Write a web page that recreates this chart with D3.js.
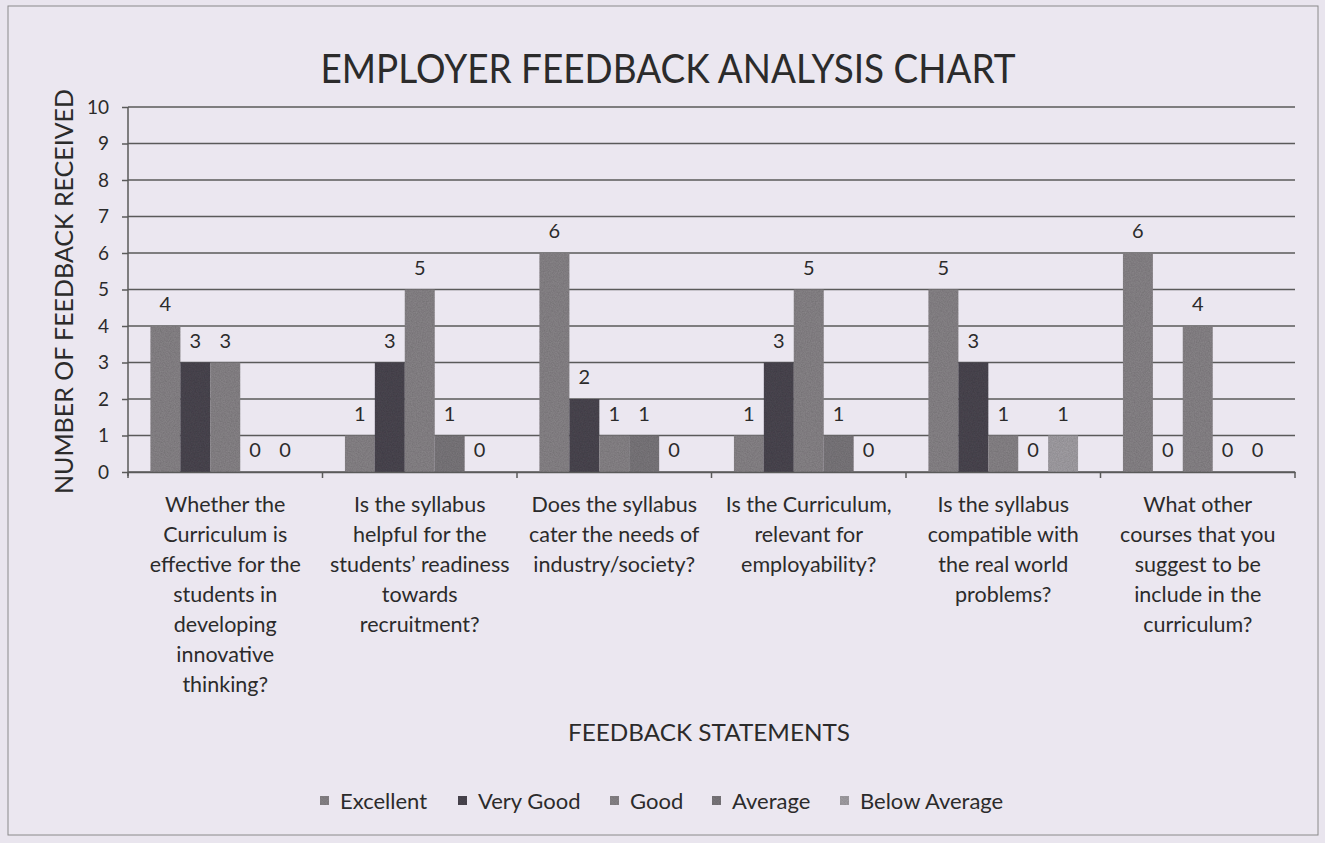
<!DOCTYPE html>
<html>
<head>
<meta charset="utf-8">
<script src="https://cdn.jsdelivr.net/npm/d3@7"></script>
<style>
  body { margin: 0; background: #e9e5ee; }
  svg { display: block; }
  text { font-family: Lato, "Open Sans", sans-serif; fill: #2b2b2b; }
</style>
</head>
<body>
<div id="chart"></div>
<script>
// categories (feedback statements, split into lines as in the picture)
const statements = [
  ['Whether the', 'Curriculum is', 'effective for the', 'students in', 'developing', 'innovative', 'thinking?'],
  ['Is the syllabus', 'helpful for the', 'students\u2019 readiness', 'towards', 'recruitment?'],
  ['Does the syllabus', 'cater the needs of', 'industry/society?'],
  ['Is the Curriculum,', 'relevant for', 'employability?'],
  ['Is the syllabus', 'compatible with', 'the real world', 'problems?'],
  ['What other', 'courses that you', 'suggest to be', 'include in the', 'curriculum?']
];

const ratings = ['Excellent', 'Very Good', 'Good', 'Average', 'Below Average'];

// number of feedback received, one array per rating
const excellent    = [4, 1, 6, 1, 5, 6];
const veryGood     = [3, 3, 2, 3, 3, 0];
const good         = [3, 5, 1, 5, 1, 4];
const average      = [0, 1, 1, 1, 0, 0];
const belowAverage = [0, 0, 0, 0, 1, 0];

const yTicks = [0, 1, 2, 3, 4, 5, 6, 7, 8, 9, 10];

const seriesValues = [excellent, veryGood, good, average, belowAverage];
const colors = ['#8b878b', '#4d4953', '#8b878b', '#7e7a7f', '#a6a3a8'];

const width = 1325, height = 843;
const margin = {top: 107, right: 30, bottom: 371, left: 128};

const svg = d3.select('#chart').append('svg')
  .attr('width', width)
  .attr('height', height);

// grain like the scanned print
const filt = svg.append('defs').append('filter')
  .attr('id', 'grain')
  .attr('x', 0).attr('y', 0).attr('width', 1).attr('height', 1);
filt.append('feTurbulence')
  .attr('type', 'fractalNoise')
  .attr('baseFrequency', 0.8)
  .attr('numOctaves', 2)
  .attr('seed', 3)
  .attr('result', 'noise');
filt.append('feColorMatrix')
  .attr('in', 'noise')
  .attr('type', 'matrix')
  .attr('values', '0 0 0 0 0  0 0 0 0 0  0 0 0 0 0  0 0 0 0.35 0')
  .attr('result', 'dark');
filt.append('feComposite')
  .attr('in', 'dark').attr('in2', 'SourceGraphic')
  .attr('operator', 'in')
  .attr('result', 'darkIn');
filt.append('feMerge').call(m => {
  m.append('feMergeNode').attr('in', 'SourceGraphic');
  m.append('feMergeNode').attr('in', 'darkIn');
});

// chart area border
svg.append('rect')
  .attr('x', 8).attr('y', 6)
  .attr('width', 1310).attr('height', 829)
  .attr('fill', '#ebe7f0')
  .attr('stroke', '#8a8a8a')
  .attr('stroke-width', 1);

const x0 = d3.scaleBand()
  .domain(d3.range(statements.length))
  .range([margin.left, width - margin.right]);

const x1 = d3.scaleBand()
  .domain(d3.range(ratings.length))
  .range([0, x0.bandwidth()])
  .paddingOuter(0.75);

const y = d3.scaleLinear()
  .domain([0, 10])
  .range([height - margin.bottom, margin.top]);

// gridlines
svg.append('g')
  .selectAll('line')
  .data(yTicks)
  .join('line')
    .attr('x1', margin.left)
    .attr('x2', width - margin.right)
    .attr('y1', d => y(d))
    .attr('y2', d => y(d))
    .attr('stroke', '#5a5a5a')
    .attr('stroke-width', 1.5);

// bars
const groups = svg.append('g')
  .selectAll('g')
  .data(statements)
  .join('g')
    .attr('transform', (d, i) => `translate(${x0(i)},0)`);

groups.each(function(d, i) {
  const g = d3.select(this);
  const vals = seriesValues.map((s, k) => ({k: k, v: s[i]}));
  g.selectAll('rect')
    .data(vals)
    .join('rect')
      .attr('x', e => x1(e.k))
      .attr('y', e => y(e.v))
      .attr('width', x1.bandwidth())
      .attr('height', e => y(0) - y(e.v))
      .attr('fill', e => colors[e.k])
      .attr('filter', 'url(#grain)');
  g.selectAll('text')
    .data(vals)
    .join('text')
      .attr('x', e => x1(e.k) + x1.bandwidth() / 2)
      .attr('y', e => y(e.v) - 15)
      .attr('text-anchor', 'middle')
      .attr('font-size', 20)
      .text(e => e.v);
});

// y axis
const yAxis = svg.append('g')
  .attr('transform', `translate(${margin.left},0)`)
  .call(d3.axisLeft(y).tickValues(yTicks).tickSize(6).tickPadding(13));
yAxis.selectAll('text').attr('font-size', 19).attr('fill', '#2b2b2b').style('font-family', 'Lato, sans-serif');
yAxis.selectAll('line, path').attr('stroke', '#5a5a5a').attr('stroke-width', 1.5);
yAxis.select('path').attr('d', `M0,${y(0) + 4}V${y(10)}`);

// x axis baseline and category ticks
const xAxis = svg.append('g')
  .attr('transform', `translate(0,${y(0)})`)
  .call(d3.axisBottom(x0).tickValues([]).tickSizeOuter(0));
xAxis.select('path').attr('stroke', '#5a5a5a').attr('stroke-width', 1.5);
xAxis.selectAll('line.sep')
  .data(d3.range(statements.length + 1))
  .join('line')
    .attr('class', 'sep')
    .attr('x1', i => margin.left + i * x0.bandwidth())
    .attr('x2', i => margin.left + i * x0.bandwidth())
    .attr('y1', 0).attr('y2', 6)
    .attr('stroke', '#5a5a5a').attr('stroke-width', 1.5);

// category labels
const catLabels = svg.append('g')
  .selectAll('text')
  .data(statements)
  .join('text')
    .attr('x', (d, i) => x0(i) + x0.bandwidth() / 2)
    .attr('y', 512)
    .attr('text-anchor', 'middle')
    .attr('font-size', 21.5);
catLabels.each(function(lines) {
  d3.select(this).selectAll('tspan')
    .data(lines)
    .join('tspan')
      .attr('x', d3.select(this).attr('x'))
      .attr('dy', (l, j) => j === 0 ? 0 : 30)
      .text(l => l);
});

// title
svg.append('text')
  .attr('x', 668).attr('y', 83)
  .attr('text-anchor', 'middle')
  .attr('font-size', 40)
  .attr('textLength', 695)
  .attr('lengthAdjust', 'spacingAndGlyphs')
  .text('EMPLOYER FEEDBACK ANALYSIS CHART');

// y axis title
svg.append('text')
  .attr('transform', `translate(73,${(y(0) + y(10)) / 2 + 2}) rotate(-90)`)
  .attr('text-anchor', 'middle')
  .attr('font-size', 25)
  .attr('textLength', 405)
  .attr('lengthAdjust', 'spacingAndGlyphs')
  .text('NUMBER OF FEEDBACK RECEIVED');

// x axis title
svg.append('text')
  .attr('x', 709).attr('y', 741)
  .attr('text-anchor', 'middle')
  .attr('font-size', 23)
  .attr('textLength', 282)
  .attr('lengthAdjust', 'spacingAndGlyphs')
  .text('FEEDBACK STATEMENTS');

// legend
const legendX = [320, 458, 610, 712, 840];
const legend = svg.append('g')
  .selectAll('g')
  .data(ratings)
  .join('g')
    .attr('transform', (d, i) => `translate(${legendX[i]},801)`);
legend.append('rect')
  .attr('x', 0).attr('y', -5)
  .attr('width', 9).attr('height', 9)
  .attr('fill', (d, i) => colors[i])
  .attr('filter', 'url(#grain)');
legend.append('text')
  .attr('x', 20).attr('y', 8)
  .attr('font-size', 22)
  .text(d => d);
</script>
</body>
</html>
